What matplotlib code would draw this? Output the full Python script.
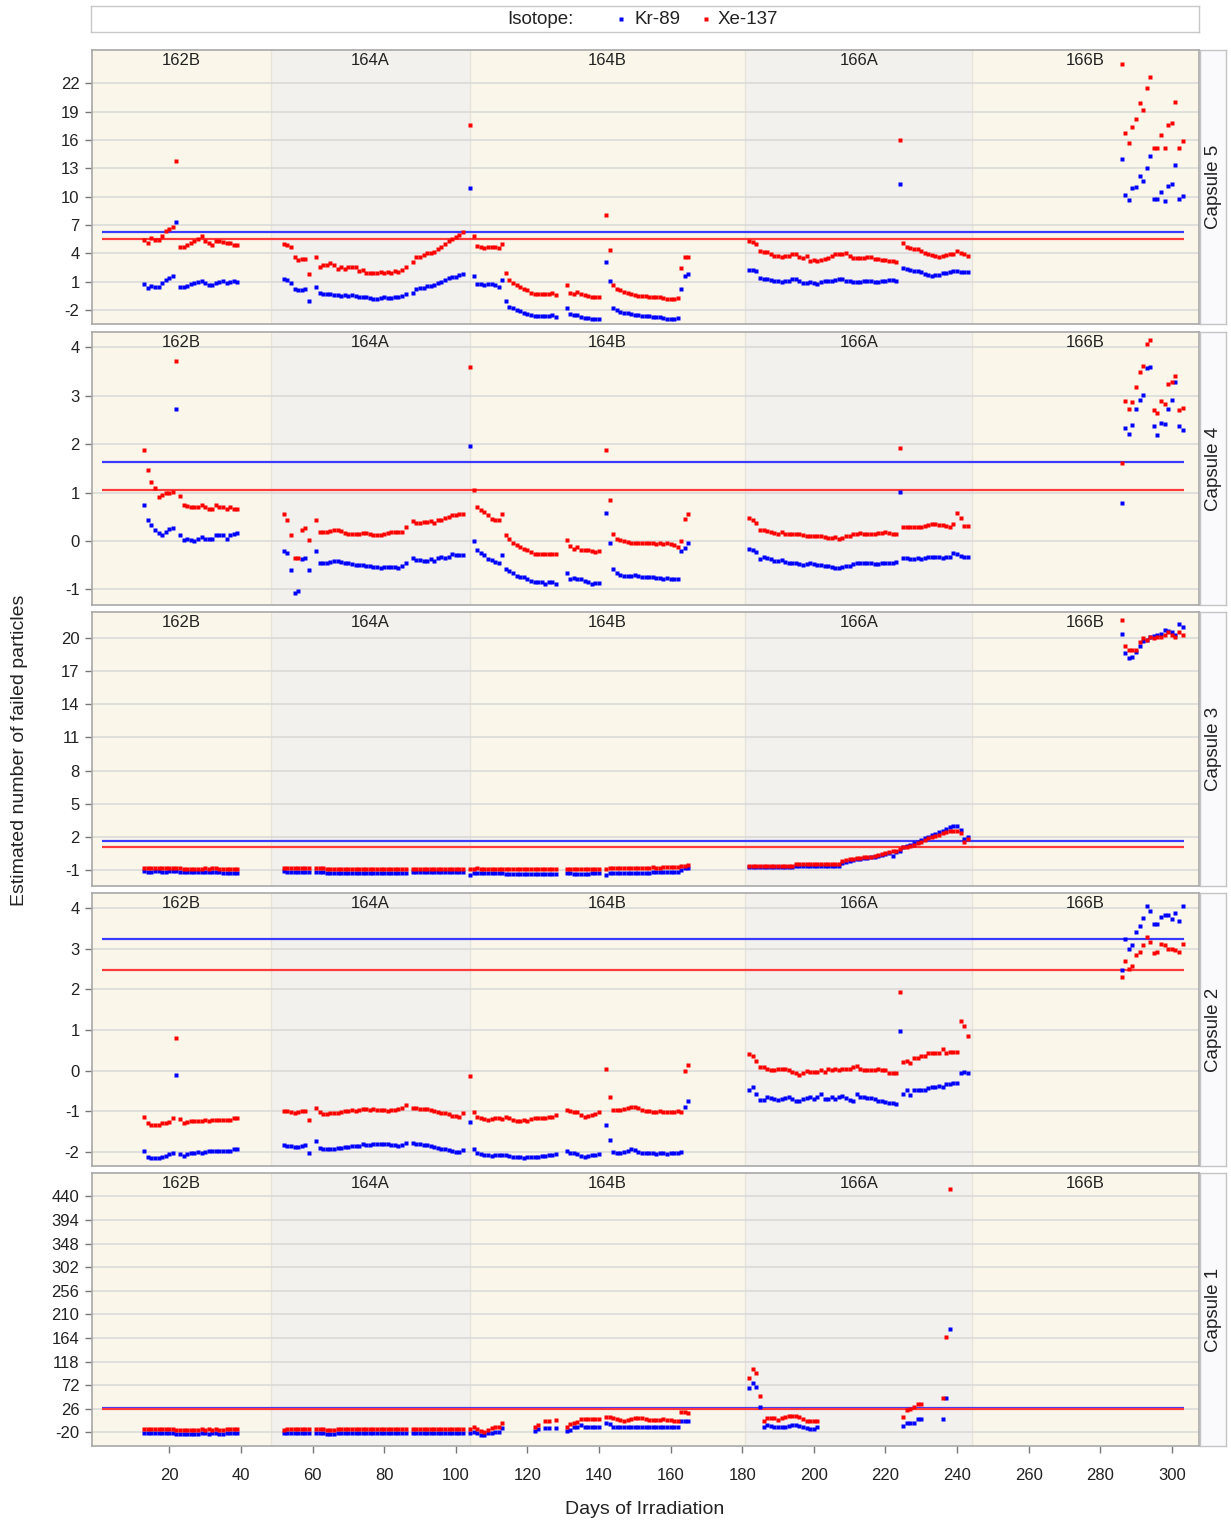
import matplotlib
matplotlib.use("Agg")
import matplotlib.pyplot as plt
from matplotlib.transforms import blended_transform_factory
import numpy as np

plt.rcParams["font.family"] = ["Liberation Sans", "DejaVu Sans"]
plt.rcParams["axes.unicode_minus"] = False

W, H = 1231, 1523
NAN = float("nan")

# ---------------------------------------------------------------- data
# days of irradiation with a measurement (same for every capsule)
DAYS = (list(range(13, 40))                                   # 162B
        + list(range(52, 60)) + list(range(61, 87))           # 164A
        + list(range(88, 103)) + [104]
        + list(range(105, 129)) + list(range(131, 141))       # 164B
        + list(range(142, 166))
        + list(range(182, 244))                               # 166A
        + list(range(286, 304)))                              # 166B

CYCLES = ["162B", "164A", "164B", "166A", "166B"]
CYCLE_EDGES = [-1.6, 48.3, 103.9, 180.8, 244.3, 307.6]

CAPSULES = [5, 4, 3, 2, 1]

# Kr-89 / Xe-137 cutoff levels per capsule
KR_CUT = {5: 6.3, 4: 1.62, 3: 1.66, 2: 3.23, 1: 27.0}
XE_CUT = {5: 5.5, 4: 1.05, 3: 1.05, 2: 2.47, 1: 25.0}

# ---- capsule 5
KR_C5 = ([0.8, 0.4, 0.6, 0.5, 0.5, 0.9, 1.2, 1.4, 1.6, 7.3, 0.5, 0.5, 0.6, 0.8, 0.9, 1.0, 1.1, 0.9, 0.7, 0.7,
          0.9, 1.0, 1.1, 0.9, 1.0, 1.1, 1.0]
         + [1.35, 1.2, 0.9, 0.2, 0.1, 0.1, 0.3, -1.05]
         + [0.45, -0.15, -0.25, -0.25, -0.3, -0.4, -0.4, -0.5, -0.4, -0.5, -0.4, -0.5, -0.65, -0.6, -0.65,
            -0.75, -0.85, -0.85, -0.75, -0.65, -0.75, -0.7, -0.65, -0.6, -0.5, -0.25]
         + [-0.2, 0.3, 0.4, 0.4, 0.6, 0.6, 0.65, 0.9, 1.0, 1.25, 1.45, 1.55, 1.55, 1.7, 1.8]
         + [10.9]
         + [1.6, 0.8, 0.75, 0.65, 0.8, 0.75, 0.65, 0.5, 1.25, -1.05, -1.65, -1.8, -1.95, -2.05, -2.3, -2.4,
            -2.55, -2.65, -2.65, -2.65, -2.65, -2.65, -2.55, -2.7]
         + [-1.8, -2.35, -2.55, -2.55, -2.7, -2.8, -2.8, -2.9, -2.9, -2.9]
         + [3.1, 1.1, -1.8, -2.0, -2.15, -2.25, -2.3, -2.4, -2.5, -2.55, -2.6, -2.6, -2.65, -2.7, -2.7, -2.75,
            -2.85, -2.95, -2.95, -2.9, -2.85, 0.3, 1.6, 1.8]
         + [2.3, 2.3, 2.1, 1.45, 1.3, 1.3, 1.2, 1.1, 1.05, 1.0, 1.05, 1.1, 1.3, 1.3, 1.05, 0.85, 0.85, 0.95,
            0.85, 0.75, 0.95, 1.05, 1.1, 1.05, 1.2, 1.3, 1.3, 1.1, 1.05, 0.95, 0.95, 0.95, 1.05, 1.1, 1.1, 0.95,
            0.95, 1.05, 1.1, 1.2, 1.15, 1.1]
         + [11.3]
         + [2.45, 2.4, 2.3, 2.2, 2.1, 2.05, 1.85, 1.7, 1.6, 1.7, 1.75, 1.9, 1.9, 2.0, 2.1, 2.1, 2.05, 2.0, 2.0]
         + [14.0, 10.2, 9.7, 10.9, 11.0, 12.2, 11.7, 13.0, 14.3, 9.8, 9.8, 10.5, 9.5, 11.1, 11.3, 13.3, 9.8, 10.1])
XE_C5 = ([5.4, 5.1, 5.6, 5.4, 5.4, 5.9, 6.4, 6.6, 6.8, 13.8, 4.7, 4.7, 4.9, 5.1, 5.3, 5.5, 5.8, 5.3, 5.1, 4.9,
          5.3, 5.3, 5.2, 5.1, 5.1, 4.9, 4.9]
         + [5.05, 4.9, 4.65, 3.65, 3.35, 3.45, 3.45, 1.8]
         + [3.65, 2.6, 2.75, 2.75, 2.95, 2.75, 2.4, 2.6, 2.4, 2.6, 2.6, 2.6, 2.15, 2.25, 1.95, 1.95, 1.95, 1.95,
            2.05, 1.95, 2.05, 1.95, 2.15, 2.05, 2.25, 2.6]
         + [3.1, 3.6, 3.65, 3.8, 4.0, 4.1, 4.2, 4.5, 4.7, 5.05, 5.35, 5.5, 5.75, 5.95, 6.3]
         + [17.6]
         + [5.85, 4.8, 4.65, 4.55, 4.7, 4.7, 4.65, 4.55, 5.05, 1.95, 1.2, 0.9, 0.65, 0.45, 0.3, 0.1, -0.15, -0.3,
            -0.3, -0.3, -0.3, -0.3, -0.15, -0.4]
         + [0.65, -0.15, -0.25, -0.05, -0.3, -0.4, -0.5, -0.65, -0.65, -0.65]
         + [8.05, 4.4, 0.65, 0.3, 0.1, -0.05, -0.15, -0.25, -0.4, -0.45, -0.5, -0.5, -0.55, -0.6, -0.6, -0.6,
            -0.75, -0.85, -0.85, -0.8, -0.75, 2.45, 3.65, 3.65]
         + [5.3, 5.2, 5.05, 4.3, 4.2, 4.2, 3.9, 3.7, 3.7, 3.6, 3.7, 3.7, 3.95, 3.95, 3.6, 3.55, 3.7, 3.25, 3.35,
            3.25, 3.35, 3.45, 3.55, 3.7, 3.9, 3.9, 3.95, 4.05, 3.7, 3.55, 3.55, 3.55, 3.55, 3.6, 3.6, 3.45, 3.45,
            3.35, 3.35, 3.2, 3.2, 3.15]
         + [16.0]
         + [5.15, 4.7, 4.55, 4.45, 4.45, 4.25, 4.05, 3.95, 3.8, 3.7, 3.6, 3.7, 3.8, 3.9, 3.9, 4.3, 4.05, 3.9, 3.7]
         + [24.0, 16.7, 15.7, 17.4, 18.2, 19.9, 19.2, 21.5, 22.7, 15.1, 15.1, 16.5, 15.1, 17.6, 17.8, 20.0, 15.1,
            15.9])

# ---- capsule 4
KR_C4 = ([0.74, 0.44, 0.33, 0.22, 0.17, 0.12, 0.19, 0.24, 0.26, 2.72, 0.12, 0.03, 0.05, 0.03, 0.0, 0.05, 0.09,
          0.05, 0.05, 0.05, 0.12, 0.12, 0.12, 0.05, 0.12, 0.15, 0.17]
         + [-0.2, -0.24, -0.59, -1.07, -1.03, -0.38, -0.36, -0.59]
         + [-0.2, -0.45, -0.45, -0.46, -0.43, -0.41, -0.41, -0.43, -0.45, -0.46, -0.48, -0.5, -0.5, -0.5, -0.52,
            -0.52, -0.53, -0.53, -0.55, -0.53, -0.53, -0.53, -0.53, -0.55, -0.52, -0.45]
         + [-0.36, -0.4, -0.4, -0.41, -0.41, -0.38, -0.41, -0.36, -0.34, -0.36, -0.33, -0.26, -0.29, -0.29, -0.29]
         + [1.95]
         + [0.01, -0.19, -0.24, -0.29, -0.38, -0.4, -0.43, -0.46, -0.29, -0.57, -0.62, -0.67, -0.73, -0.75,
            -0.75, -0.79, -0.82, -0.84, -0.84, -0.84, -0.88, -0.84, -0.84, -0.88]
         + [-0.67, -0.79, -0.77, -0.79, -0.79, -0.82, -0.84, -0.88, -0.86, -0.86]
         + [0.58, -0.04, -0.57, -0.67, -0.7, -0.72, -0.72, -0.72, -0.7, -0.72, -0.74, -0.74, -0.75, -0.75, -0.77,
            -0.76, -0.79, -0.76, -0.78, -0.78, -0.78, -0.2, -0.15, -0.05]
         + [-0.16, -0.19, -0.22, -0.38, -0.33, -0.36, -0.38, -0.41, -0.41, -0.4, -0.43, -0.45, -0.46, -0.46,
            -0.48, -0.5, -0.48, -0.46, -0.48, -0.5, -0.5, -0.52, -0.52, -0.53, -0.55, -0.55, -0.53, -0.52, -0.52,
            -0.48, -0.45, -0.45, -0.45, -0.45, -0.46, -0.48, -0.48, -0.46, -0.45, -0.45, -0.45, -0.44]
         + [1.01]
         + [-0.36, -0.36, -0.38, -0.38, -0.36, -0.38, -0.36, -0.33, -0.33, -0.33, -0.34, -0.36, -0.34, -0.34,
            -0.24, -0.27, -0.31, -0.33, -0.33]
         + [0.79, 2.34, 2.21, 2.40, 2.72, 2.91, 3.02, 3.57, 3.59, 2.37, 2.18, 2.43, 2.41, 2.72, 2.91, 3.27, 2.37,
            2.28])
XE_C4 = ([1.88, 1.47, 1.22, 1.09, 0.90, 0.94, 0.98, 1.00, 1.01, 3.72, 0.93, 0.74, 0.72, 0.70, 0.70, 0.70, 0.74,
          0.70, 0.67, 0.67, 0.74, 0.70, 0.70, 0.67, 0.70, 0.67, 0.66]
         + [0.55, 0.44, 0.12, -0.36, -0.36, 0.22, 0.26, 0.03]
         + [0.44, 0.19, 0.19, 0.19, 0.2, 0.22, 0.22, 0.2, 0.17, 0.15, 0.15, 0.14, 0.15, 0.17, 0.17, 0.14, 0.12,
            0.12, 0.12, 0.14, 0.17, 0.19, 0.19, 0.19, 0.19, 0.29]
         + [0.41, 0.37, 0.37, 0.39, 0.39, 0.41, 0.37, 0.43, 0.44, 0.48, 0.49, 0.53, 0.53, 0.55, 0.55]
         + [3.59]
         + [1.05, 0.70, 0.63, 0.6, 0.53, 0.46, 0.43, 0.43, 0.55, 0.12, 0.05, -0.04, -0.09, -0.13, -0.16, -0.19,
            -0.22, -0.26, -0.27, -0.27, -0.27, -0.27, -0.27, -0.27]
         + [0.03, -0.11, -0.16, -0.12, -0.18, -0.18, -0.19, -0.2, -0.22, -0.2]
         + [1.88, 0.85, 0.15, 0.05, 0.02, -0.01, -0.03, -0.04, -0.04, -0.05, -0.05, -0.05, -0.05, -0.05, -0.06,
            -0.05, -0.06, -0.05, -0.07, -0.09, -0.12, 0.0, 0.45, 0.55]
         + [0.48, 0.44, 0.37, 0.22, 0.22, 0.21, 0.19, 0.17, 0.15, 0.19, 0.15, 0.14, 0.14, 0.15, 0.14, 0.12, 0.10,
            0.10, 0.10, 0.10, 0.10, 0.09, 0.07, 0.07, 0.09, 0.05, 0.07, 0.10, 0.10, 0.14, 0.15, 0.17, 0.14, 0.15,
            0.14, 0.14, 0.17, 0.17, 0.19, 0.17, 0.15, 0.15]
         + [1.92]
         + [0.28, 0.28, 0.28, 0.28, 0.29, 0.29, 0.3, 0.32, 0.35, 0.35, 0.34, 0.32, 0.3, 0.28, 0.35, 0.58, 0.48,
            0.3, 0.3]
         + [1.60, 2.88, 2.72, 2.86, 3.18, 3.49, 3.61, 4.07, 4.14, 2.70, 2.63, 2.89, 2.82, 3.24, 3.27, 3.40, 2.70,
            2.75])

# ---- capsule 3
KR_C3 = ([-1.1, -1.15, -1.15, -1.1, -1.1, -1.15, -1.15, -1.1, -1.1, -1.1, -1.15, -1.2, -1.2, -1.2, -1.2, -1.2,
          -1.2, -1.15, -1.2, -1.2, -1.2, -1.2, -1.25, -1.25, -1.25, -1.25, -1.25]
         + [-1.1, -1.15, -1.15, -1.2, -1.2, -1.2, -1.2, -1.15]
         + [-1.15, -1.2, -1.2, -1.25, -1.25, -1.25, -1.25, -1.25, -1.25, -1.25, -1.25, -1.25, -1.25, -1.25,
            -1.25, -1.25, -1.25, -1.25, -1.25, -1.25, -1.25, -1.25, -1.25, -1.25, -1.25, -1.25]
         + [-1.2, -1.2, -1.2, -1.2, -1.2, -1.2, -1.2, -1.2, -1.2, -1.2, -1.2, -1.2, -1.2, -1.2, -1.2]
         + [-1.45]
         + [-1.3, -1.3, -1.3, -1.3, -1.3, -1.3, -1.3, -1.3, -1.3, -1.35, -1.35, -1.35, -1.35, -1.35, -1.35,
            -1.35, -1.4, -1.4, -1.4, -1.4, -1.4, -1.35, -1.35, -1.35]
         + [-1.3, -1.3, -1.35, -1.35, -1.35, -1.35, -1.35, -1.3, -1.3, -1.3]
         + [-1.45, -1.3, -1.3, -1.3, -1.3, -1.3, -1.3, -1.25, -1.25, -1.25, -1.25, -1.25, -1.25, -1.2, -1.2,
            -1.2, -1.2, -1.2, -1.2, -1.2, -1.2, -1.0, -0.85, -0.8]
         + [-0.75, -0.75, -0.75, -0.75, -0.75, -0.75, -0.75, -0.75, -0.75, -0.75, -0.75, -0.75, -0.75, -0.63,
            -0.63, -0.63, -0.63, -0.63, -0.63, -0.63, -0.63, -0.63, -0.63, -0.63, -0.63, -0.63, -0.33, -0.25,
            -0.15, -0.1, -0.03, 0.0, 0.06, 0.1, 0.15, 0.2, 0.27, 0.35, 0.42, 0.5, 0.3, 0.6]
         + [0.75]
         + [1.05, 1.15, 1.27, 1.4, 1.57, 1.7, 1.87, 2.0, 2.17, 2.3, 2.45, 2.56, 2.7, 2.86, 2.95, 2.98, 2.62, 1.78,
            1.96]
         + [20.4, 18.6, 18.2, 18.3, 18.7, 19.3, 19.7, 19.8, 20.1, 20.2, 20.3, 20.4, 20.7, 20.6, 20.5, 20.3, 21.3,
            21.0])
XE_C3 = ([-0.8, -0.85, -0.85, -0.8, -0.8, -0.85, -0.85, -0.8, -0.8, -0.8, -0.85, -0.9, -0.9, -0.9, -0.9, -0.9,
          -0.9, -0.85, -0.9, -0.85, -0.85, -0.9, -0.9, -0.9, -0.9, -0.9, -0.9]
         + [-0.85, -0.8, -0.8, -0.85, -0.85, -0.85, -0.85, -0.85]
         + [-0.85, -0.85, -0.85, -0.9, -0.9, -0.9, -0.9, -0.9, -0.9, -0.9, -0.9, -0.9, -0.9, -0.9, -0.9, -0.9,
            -0.9, -0.9, -0.9, -0.9, -0.9, -0.9, -0.9, -0.9, -0.9, -0.9]
         + [-0.9, -0.9, -0.9, -0.9, -0.9, -0.9, -0.9, -0.9, -0.9, -0.9, -0.9, -0.9, -0.9, -0.9, -0.9]
         + [-0.9]
         + [-0.9, -0.85, -0.9, -0.9, -0.9, -0.9, -0.9, -0.9, -0.9, -0.9, -0.9, -0.9, -0.9, -0.9, -0.9, -0.9,
            -0.9, -0.9, -0.9, -0.9, -0.9, -0.9, -0.9, -0.9]
         + [-0.9, -0.9, -0.9, -0.9, -0.9, -0.9, -0.9, -0.9, -0.9, -0.9]
         + [-0.9, -0.85, -0.85, -0.85, -0.85, -0.85, -0.85, -0.85, -0.85, -0.8, -0.8, -0.8, -0.8, -0.75, -0.8,
            -0.8, -0.75, -0.75, -0.75, -0.7, -0.7, -0.65, -0.6, -0.55]
         + [-0.6, -0.6, -0.6, -0.6, -0.6, -0.6, -0.6, -0.6, -0.6, -0.6, -0.6, -0.6, -0.6, -0.45, -0.45, -0.45,
            -0.45, -0.45, -0.45, -0.45, -0.45, -0.45, -0.45, -0.45, -0.45, -0.45, -0.15, -0.1, -0.03, 0.0, 0.06,
            0.1, 0.15, 0.18, 0.21, 0.28, 0.36, 0.45, 0.57, 0.62, 0.7, 0.75]
         + [0.9]
         + [1.05, 1.1, 1.17, 1.3, 1.42, 1.55, 1.72, 1.85, 1.96, 2.1, 2.2, 2.32, 2.45, 2.56, 2.56, 2.5, 2.38, 1.57,
            1.78]
         + [21.6, 19.3, 18.9, 18.9, 18.9, 19.6, 20.0, 19.8, 20.1, 20.0, 20.1, 20.1, 20.3, 20.5, 20.3, 20.1, 20.5,
            20.3])

# ---- capsule 2
KR_C2 = ([-1.98, -2.12, -2.16, -2.15, -2.16, -2.12, -2.1, -2.06, -2.02, -0.11, -2.06, -2.1, -2.06, -2.04, -2.02,
          -2.01, -2.02, -2.0, -1.98, -1.97, -1.97, -1.98, -1.98, -1.98, -1.98, -1.94, -1.94]
         + [-1.84, -1.86, -1.86, -1.88, -1.88, -1.86, -1.84, -2.02]
         + [-1.73, -1.9, -1.94, -1.92, -1.92, -1.92, -1.9, -1.9, -1.88, -1.88, -1.86, -1.86, -1.85, -1.81, -1.84,
            -1.84, -1.81, -1.81, -1.81, -1.81, -1.81, -1.84, -1.84, -1.86, -1.84, -1.78]
         + [-1.79, -1.81, -1.81, -1.84, -1.84, -1.86, -1.88, -1.9, -1.92, -1.94, -1.96, -1.98, -2.0, -2.0, -1.96]
         + [-1.26]
         + [-1.94, -2.04, -2.06, -2.08, -2.08, -2.1, -2.08, -2.08, -2.08, -2.08, -2.1, -2.12, -2.12, -2.14, -2.16,
            -2.12, -2.14, -2.12, -2.12, -2.1, -2.1, -2.08, -2.08, -2.06]
         + [-1.98, -2.02, -2.04, -2.06, -2.1, -2.12, -2.1, -2.08, -2.08, -2.06]
         + [-1.34, -1.71, -2.0, -2.02, -2.02, -2.0, -1.98, -1.92, -1.96, -2.0, -2.02, -2.04, -2.02, -2.04, -2.06,
            -2.04, -2.04, -2.06, -2.04, -2.02, -2.02, -2.0, -0.9, -0.75]
         + [-0.47, -0.40, -0.58, -0.73, -0.73, -0.66, -0.68, -0.71, -0.73, -0.71, -0.68, -0.66, -0.71, -0.75,
            -0.75, -0.71, -0.68, -0.66, -0.71, -0.65, -0.58, -0.71, -0.71, -0.66, -0.71, -0.66, -0.63, -0.68,
            -0.73, -0.75, -0.58, -0.65, -0.66, -0.68, -0.68, -0.71, -0.75, -0.75, -0.78, -0.8, -0.8, -0.82]
         + [0.97]
         + [-0.57, -0.48, -0.61, -0.47, -0.48, -0.48, -0.47, -0.42, -0.40, -0.40, -0.39, -0.40, -0.32, -0.34,
            -0.30, -0.30, -0.06, -0.03, -0.07]
         + [2.47, 3.23, 3.0, 3.08, 3.41, 3.57, 3.76, 4.04, 3.93, 3.61, 3.61, 3.78, 3.82, 3.82, 3.74, 3.88, 3.68,
            4.04])
XE_C2 = ([-1.14, -1.29, -1.33, -1.34, -1.33, -1.3, -1.29, -1.26, -1.18, 0.81, -1.2, -1.3, -1.26, -1.25, -1.25,
          -1.23, -1.23, -1.21, -1.23, -1.21, -1.21, -1.21, -1.21, -1.21, -1.21, -1.18, -1.16]
         + [-0.99, -0.99, -1.01, -1.04, -1.01, -0.99, -0.99, -1.22]
         + [-0.91, -1.01, -1.07, -1.07, -1.05, -1.05, -1.04, -1.01, -0.99, -0.99, -0.98, -0.99, -0.98, -0.94,
            -0.94, -0.96, -0.94, -0.96, -0.96, -0.98, -0.99, -0.96, -0.98, -0.94, -0.91, -0.85]
         + [-0.91, -0.91, -0.94, -0.94, -0.94, -0.96, -0.99, -1.01, -1.04, -1.05, -1.07, -1.12, -1.12, -1.14,
            -1.05]
         + [-0.14]
         + [-1.02, -1.14, -1.18, -1.2, -1.22, -1.2, -1.18, -1.18, -1.2, -1.15, -1.18, -1.22, -1.24, -1.24, -1.22,
            -1.24, -1.2, -1.18, -1.18, -1.18, -1.18, -1.15, -1.14, -1.1]
         + [-0.98, -0.99, -1.01, -1.01, -1.1, -1.14, -1.12, -1.1, -1.07, -1.02]
         + [0.05, -0.65, -0.96, -0.98, -0.96, -0.94, -0.91, -0.89, -0.89, -0.91, -0.96, -0.99, -1.0, -1.02, -1.02,
            -1.0, -1.02, -1.03, -1.01, -1.02, -1.0, -1.02, 0.0, 0.13]
         + [0.40, 0.36, 0.24, 0.09, 0.09, 0.05, 0.01, 0.01, 0.03, 0.03, 0.05, 0.01, -0.03, -0.07, -0.11, -0.07,
            -0.02, -0.03, -0.03, -0.03, 0.01, -0.03, 0.05, 0.01, 0.05, 0.01, 0.05, 0.05, 0.05, 0.09, 0.11, 0.05,
            0.01, 0.01, 0.01, 0.01, 0.05, 0.01, 0.01, -0.05, -0.07, -0.07]
         + [1.93]
         + [0.21, 0.24, 0.19, 0.30, 0.30, 0.35, 0.37, 0.42, 0.44, 0.44, 0.44, 0.52, 0.42, 0.46, 0.46, 0.46, 1.22,
            1.09, 0.85]
         + [2.30, 2.70, 2.51, 2.57, 2.84, 2.92, 3.08, 3.29, 3.16, 2.89, 2.92, 3.11, 3.08, 3.0, 3.0, 2.96, 2.92,
            3.12])

# ---- capsule 1 (NAN = no point shown)
KR_C1 = ([-22, -22, -22, -22, -22, -22, -22, -22, -22, -23, -23, -23, -23, -23, -23, -23, -22, -22, -23, -22,
          -22, -23, -23, -22, -22, -22, -22]
         + [-22, -22, -21, -21, -21, -22, -22, -22]
         + [-22, -22, -22, -23, -23, -23, -22, -22, -22, -22, -22, -22, -22, -22, -22, -22, -22, -22, -22, -22,
            -22, -22, -22, -22, -22, -22]
         + [-22, -22, -22, -22, -22, -22, -22, -22, -22, -22, -22, -22, -22, -22, -22]
         + [-22]
         + [-19, -22, -25, -25, -22, -21, -19, -19, -12, NAN, NAN, NAN, NAN, NAN, NAN, NAN, NAN, -17, -14, NAN,
            -12, -12, NAN, -12]
         + [-17, -16, -10, -9, -6, -9, -9, -10, -10, -10]
         + [-2.4, -3.7, -9, -10, -10, -10, -10, -10, -9, -9, -9, -9, -9, -9, -9, -9, -9, -9, -9, -9, -9, 3, 3, 3]
         + [65.9, 75.6, 69, 30, -10, -5.7, -7.6, -9, -10, -10, -9, -7.6, -5.7, -5.7, -7.6, -10, -12, -14, -14, -10]
         + [NAN] * 23
         + [-7.6, -2.4, -1.1, -1.1, 5.4, 5.4, NAN, NAN, NAN, NAN, NAN, 5.4, 47.7, 181.7, NAN, NAN, NAN, NAN, NAN]
         + [NAN] * 18)
XE_C1 = ([-14, -14, -14, -14, -14, -14, -14, -14, -14, -15, -16, -16, -16, -16, -16, -15, -14, -15, -14, -15,
          -14, -16, -16, -14, -14, -14, -14]
         + [-15, -14, -13, -13, -13, -14, -14, -14]
         + [-14, -14, -14, -15, -15, -16, -14, -14, -14, -14, -14, -14, -14, -14, -14, -14, -14, -14, -14, -14,
            -14, -14, -14, -14, -14, -14]
         + [-14, -14, -14, -14, -14, -14, -14, -14, -14, -14, -14, -14, -14, -14, -14]
         + [-14]
         + [-10, -14, -17, -19, -16, -12, -10, -9, -2.4, NAN, NAN, NAN, NAN, NAN, NAN, NAN, NAN, -9, -5.7, NAN,
            2.8, 2.8, NAN, 4]
         + [-9, -3.7, -1.1, 1, 5.4, 5.4, 5.4, 5.4, 5.4, 5.4]
         + [10.6, 9.3, 7.3, 5.4, 4, 2.8, 4, 5.4, 7.3, 7.3, 7.3, 5.4, 4, 4, 4, 4, 5.4, 4, 4, 2.8, 2.8, 20, 20, 17]
         + [85.4, 103, 96.5, 51, 2.8, 7.3, 7.3, 7.3, 4, 7.3, 9.3, 11.9, 11.9, 11.9, 9.3, 5.4, 2.8, 2.8, 2.8, 2.8]
         + [NAN] * 23
         + [10.6, 23.6, 24.9, 28.8, 35.3, 35.3, NAN, NAN, NAN, NAN, NAN, 47.7, 166.7, 455, NAN, NAN, NAN, NAN, NAN]
         + [NAN] * 18)

KR = {5: KR_C5, 4: KR_C4, 3: KR_C3, 2: KR_C2, 1: KR_C1}
XE = {5: XE_C5, 4: XE_C4, 3: XE_C3, 2: XE_C2, 1: XE_C1}

Y_LIMITS = {5: (-3.45, 25.5), 4: (-1.32, 4.31), 3: (-2.45, 22.35), 2: (-2.35, 4.37), 1: (-46.7, 485.7)}
Y_TICKS = {5: list(range(-2, 23, 3)), 4: list(range(-1, 5)), 3: list(range(-1, 21, 3)),
           2: list(range(-2, 5)), 1: list(range(-20, 441, 46))}
X_TICKS = list(range(20, 301, 20))

for c in CAPSULES:
    if len(KR[c]) != len(DAYS) or len(XE[c]) != len(DAYS):
        raise ValueError(f"capsule {c}: {len(KR[c])}/{len(XE[c])} values for {len(DAYS)} days")

# ---------------------------------------------------------------- style
BLUE = "#0000ff"
RED = "#ff0000"
LINE_BLUE = "#3a3aff"
LINE_RED = "#ff3a3a"
BAND_COLORS = ["#faf7ea", "#f2f1ed"]
FRAME = "#a8a8a8"
GRID = "#d8d8d8"
TEXT = "#222222"

# panel rectangles in pixels (top, bottom)
PANEL_Y = [(50, 324), (332, 605), (612, 886), (893, 1166), (1173, 1446)]
X0, X1 = 92, 1199


def px_axes(fig, x0, y0, x1, y1):
    return fig.add_axes([x0 / W, 1 - y1 / H, (x1 - x0) / W, (y1 - y0) / H])


def draw_panel(ax, capsule, bottom):
    ax.set_xlim(CYCLE_EDGES[0], CYCLE_EDGES[-1])
    ax.set_ylim(*Y_LIMITS[capsule])

    for i, name in enumerate(CYCLES):
        lo, hi = CYCLE_EDGES[i], CYCLE_EDGES[i + 1]
        ax.axvspan(lo, hi, color=BAND_COLORS[i % 2], zorder=0.1, lw=0)
        trans = blended_transform_factory(ax.transData, ax.transAxes)
        ax.text((lo + hi) / 2, 0.962, name, transform=trans, ha="center", va="center",
                fontsize=12, color=TEXT, zorder=4)
    for edge in CYCLE_EDGES[1:-1]:
        ax.axvline(edge, color="#e6e4da", lw=1.0, zorder=0.2)

    ax.set_yticks(Y_TICKS[capsule])
    ax.yaxis.grid(True, color=GRID, lw=1.1)
    ax.set_axisbelow(True)

    ax.hlines(KR_CUT[capsule], 1.3, 303.3, color=LINE_BLUE, lw=1.6, zorder=2)
    ax.hlines(XE_CUT[capsule], 1.3, 303.3, color=LINE_RED, lw=1.6, zorder=2)

    ax.plot(DAYS, np.array(KR[capsule], dtype=float), ls="none", marker="s", ms=3.4,
            mec="none", color=BLUE, zorder=3)
    ax.plot(DAYS, np.array(XE[capsule], dtype=float), ls="none", marker="s", ms=3.4,
            mec="none", color=RED, zorder=3)

    for sp in ax.spines.values():
        sp.set_color(FRAME)
        sp.set_linewidth(1.2)
    ax.tick_params(axis="y", direction="out", length=5, width=1, color="#777777",
                   labelsize=12, labelcolor=TEXT, pad=4)
    if bottom:
        ax.set_xticks(X_TICKS)
        ax.tick_params(axis="x", direction="out", length=5, width=1, color="#777777",
                       labelsize=12, labelcolor=TEXT, pad=11)
    else:
        ax.set_xticks([])


fig = plt.figure(figsize=(W / 100, H / 100), dpi=100)
fig.patch.set_facecolor("white")

for k, capsule in enumerate(CAPSULES):
    top, bot = PANEL_Y[k]
    ax = px_axes(fig, X0, top, X1, bot)
    draw_panel(ax, capsule, bottom=(k == len(CAPSULES) - 1))

    strip = px_axes(fig, X1 + 1, top, 1226, bot)
    strip.set_facecolor("#fafafc")
    strip.set_xticks([])
    strip.set_yticks([])
    for sp in strip.spines.values():
        sp.set_color("#c4c4c4")
        sp.set_linewidth(1.0)
    strip.text(0.5, 0.5, f"Capsule {capsule}", rotation=90, ha="center", va="center",
               fontsize=13.5, color=TEXT, transform=strip.transAxes)

# legend box
leg = px_axes(fig, 91, 6, 1199, 32)
leg.set_xlim(91, 1199)
leg.set_ylim(32, 6)
leg.set_xticks([])
leg.set_yticks([])
for sp in leg.spines.values():
    sp.set_color("#c8c8c8")
    sp.set_linewidth(1.0)
leg.text(507, 19, "Isotope:", ha="left", va="center", fontsize=13.5, color=TEXT)
leg.plot([621], [19], ls="none", marker="s", ms=3.4, mec="none", color=BLUE)
leg.text(634, 19, "Kr-89", ha="left", va="center", fontsize=13.5, color=TEXT)
leg.plot([706], [19], ls="none", marker="s", ms=3.4, mec="none", color=RED)
leg.text(718, 19, "Xe-137", ha="left", va="center", fontsize=13.5, color=TEXT)

fig.text(20 / W, 1 - 750 / H, "Estimated number of failed particles", rotation=90,
         ha="center", va="center", fontsize=14, color=TEXT)
fig.text(645 / W, 1 - 1509 / H, "Days of Irradiation", ha="center", va="center",
         fontsize=14, color=TEXT)

fig.savefig("out.png", dpi=100, facecolor="white")
